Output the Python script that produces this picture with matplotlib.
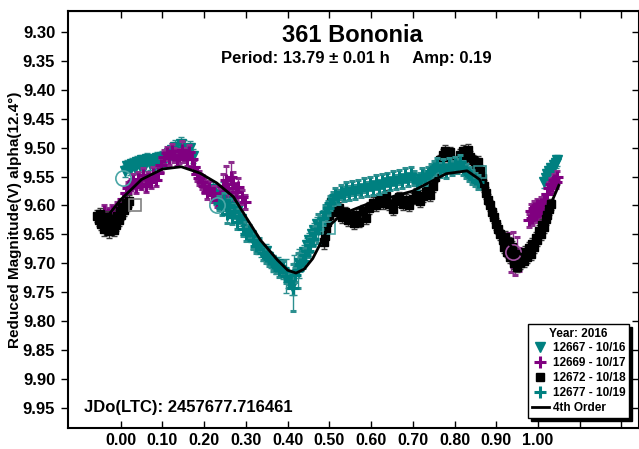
import matplotlib.pyplot as plt
from matplotlib.lines import Line2D
from matplotlib.transforms import blended_transform_factory

plt.rcParams['font.family'] = ['Liberation Sans', 'DejaVu Sans']
plt.rcParams['font.weight'] = 'bold'

# each row: (phase, reduced mag, error)
# session 12667 - 10/16, teal triangles
s12667 = [
    (0.010, 9.540, 0.010), (0.016, 9.532, 0.010), (0.022, 9.538, 0.010), (0.028, 9.528, 0.010),
    (0.034, 9.535, 0.010), (0.040, 9.525, 0.010), (0.046, 9.532, 0.010), (0.052, 9.522, 0.010),
    (0.058, 9.530, 0.010), (0.064, 9.520, 0.010), (0.070, 9.528, 0.010), (0.076, 9.522, 0.010),
    (0.082, 9.530, 0.010), (0.088, 9.518, 0.010), (0.094, 9.526, 0.010), (0.100, 9.516, 0.010),
    (0.107, 9.522, 0.012), (0.115, 9.510, 0.012), (0.123, 9.504, 0.012), (0.130, 9.498, 0.012),
    (0.137, 9.508, 0.012), (0.144, 9.494, 0.012), (0.151, 9.502, 0.015), (0.158, 9.510, 0.012),
    (0.165, 9.500, 0.012), (0.172, 9.514, 0.012),
    (0.222, 9.572, 0.012), (0.228, 9.588, 0.012), (0.234, 9.580, 0.015), (0.240, 9.596, 0.012),
    (0.246, 9.584, 0.025), (0.252, 9.602, 0.012), (0.258, 9.592, 0.015), (0.264, 9.610, 0.012),
    (0.270, 9.600, 0.020), (0.276, 9.612, 0.012), (0.282, 9.606, 0.012), (0.288, 9.624, 0.012),
    (0.294, 9.632, 0.015), (0.300, 9.640, 0.012), (0.306, 9.646, 0.012), (0.312, 9.652, 0.012),
    (0.318, 9.660, 0.015), (0.324, 9.666, 0.012), (0.330, 9.672, 0.012), (0.336, 9.678, 0.012),
    (0.342, 9.684, 0.012), (0.348, 9.678, 0.012), (0.354, 9.690, 0.012), (0.360, 9.696, 0.012),
    (0.366, 9.700, 0.015), (0.372, 9.706, 0.012), (0.378, 9.702, 0.012), (0.384, 9.712, 0.012),
    (0.390, 9.716, 0.012), (0.396, 9.722, 0.030), (0.402, 9.730, 0.012), (0.410, 9.740, 0.015),
    (0.416, 9.720, 0.035), (0.422, 9.708, 0.012), (0.428, 9.700, 0.025), (0.434, 9.690, 0.012),
    (0.440, 9.680, 0.012), (0.446, 9.668, 0.012), (0.452, 9.660, 0.012), (0.458, 9.650, 0.012),
    (0.464, 9.642, 0.012), (0.470, 9.632, 0.012),
    (1.014, 9.560, 0.010), (1.018, 9.552, 0.010), (1.022, 9.546, 0.010), (1.026, 9.540, 0.010),
    (1.030, 9.536, 0.010), (1.034, 9.540, 0.010), (1.038, 9.530, 0.010), (1.042, 9.526, 0.010),
    (1.046, 9.522, 0.010),
]

# session 12669 - 10/17, purple plus
s12669 = [
    (-0.045, 9.622, 0.010), (-0.040, 9.610, 0.010), (-0.035, 9.628, 0.010), (-0.030, 9.614, 0.010),
    (-0.025, 9.632, 0.010), (-0.020, 9.610, 0.010), (-0.015, 9.622, 0.010), (-0.010, 9.604, 0.010),
    (-0.005, 9.614, 0.010), (0.000, 9.598, 0.010), (0.006, 9.588, 0.010), (0.012, 9.578, 0.010),
    (0.018, 9.570, 0.010), (0.024, 9.564, 0.010), (0.030, 9.558, 0.012), (0.036, 9.568, 0.010),
    (0.042, 9.554, 0.012), (0.048, 9.562, 0.010), (0.054, 9.548, 0.012), (0.060, 9.566, 0.010),
    (0.066, 9.554, 0.012), (0.072, 9.560, 0.010), (0.078, 9.546, 0.012), (0.084, 9.556, 0.010),
    (0.090, 9.544, 0.012), (0.097, 9.530, 0.012), (0.104, 9.516, 0.012), (0.110, 9.510, 0.012),
    (0.116, 9.518, 0.012), (0.122, 9.506, 0.012), (0.128, 9.512, 0.012), (0.134, 9.520, 0.012),
    (0.140, 9.514, 0.012), (0.146, 9.504, 0.015), (0.152, 9.512, 0.012), (0.158, 9.520, 0.012),
    (0.164, 9.508, 0.012), (0.170, 9.520, 0.012), (0.176, 9.534, 0.012), (0.182, 9.546, 0.012),
    (0.188, 9.552, 0.012), (0.194, 9.560, 0.012), (0.200, 9.566, 0.012), (0.206, 9.576, 0.012),
    (0.212, 9.570, 0.012), (0.218, 9.582, 0.012), (0.224, 9.578, 0.012), (0.230, 9.590, 0.012),
    (0.238, 9.584, 0.015), (0.246, 9.566, 0.020), (0.252, 9.556, 0.025), (0.258, 9.570, 0.020),
    (0.264, 9.550, 0.025), (0.270, 9.562, 0.020), (0.276, 9.576, 0.015), (0.282, 9.568, 0.015),
    (0.290, 9.586, 0.012), (0.298, 9.594, 0.012),
    (0.930, 9.668, 0.020), (0.935, 9.690, 0.025), (0.940, 9.676, 0.030), (0.945, 9.700, 0.020),
    (0.950, 9.684, 0.030), (0.955, 9.694, 0.020),
    (0.978, 9.626, 0.012), (0.982, 9.610, 0.012), (0.986, 9.622, 0.012), (0.990, 9.604, 0.012),
    (0.994, 9.616, 0.012), (0.998, 9.600, 0.012), (1.002, 9.612, 0.012), (1.006, 9.598, 0.012),
    (1.010, 9.606, 0.012), (1.014, 9.592, 0.012), (1.018, 9.590, 0.010), (1.022, 9.580, 0.010),
    (1.026, 9.570, 0.010), (1.030, 9.562, 0.010), (1.034, 9.566, 0.010), (1.038, 9.556, 0.010),
    (1.042, 9.560, 0.010), (1.046, 9.550, 0.010),
]

# session 12672 - 10/18, black squares
s12672 = [
    (-0.056, 9.618, 0.010), (-0.053, 9.626, 0.010), (-0.050, 9.614, 0.010), (-0.047, 9.632, 0.010),
    (-0.044, 9.622, 0.010), (-0.041, 9.640, 0.012), (-0.038, 9.628, 0.010), (-0.035, 9.636, 0.010),
    (-0.032, 9.620, 0.010), (-0.029, 9.645, 0.012), (-0.026, 9.630, 0.010), (-0.023, 9.638, 0.010),
    (-0.020, 9.624, 0.010), (-0.017, 9.642, 0.010), (-0.014, 9.628, 0.010), (-0.011, 9.634, 0.010),
    (-0.008, 9.618, 0.010), (-0.005, 9.626, 0.010), (-0.002, 9.610, 0.010), (0.001, 9.616, 0.010),
    (0.004, 9.603, 0.010), (0.008, 9.608, 0.010), (0.012, 9.596, 0.010), (0.016, 9.600, 0.010),
    (0.020, 9.592, 0.010),
    (0.486, 9.664, 0.012), (0.489, 9.652, 0.010), (0.492, 9.640, 0.010), (0.495, 9.628, 0.010),
    (0.498, 9.616, 0.010), (0.501, 9.604, 0.010), (0.504, 9.594, 0.012), (0.508, 9.606, 0.010),
    (0.512, 9.598, 0.010), (0.518, 9.612, 0.010), (0.524, 9.604, 0.010), (0.530, 9.620, 0.010),
    (0.537, 9.612, 0.010), (0.544, 9.626, 0.010), (0.551, 9.618, 0.010), (0.558, 9.630, 0.010),
    (0.565, 9.616, 0.010), (0.572, 9.628, 0.010), (0.580, 9.610, 0.010), (0.588, 9.622, 0.010),
    (0.596, 9.604, 0.010), (0.604, 9.596, 0.010), (0.612, 9.600, 0.010), (0.620, 9.588, 0.010),
    (0.628, 9.596, 0.010), (0.636, 9.584, 0.010), (0.644, 9.598, 0.010), (0.652, 9.606, 0.010),
    (0.660, 9.592, 0.010), (0.668, 9.586, 0.010), (0.676, 9.598, 0.010), (0.684, 9.590, 0.010),
    (0.692, 9.600, 0.010), (0.700, 9.588, 0.010), (0.708, 9.580, 0.010), (0.716, 9.592, 0.010),
    (0.724, 9.584, 0.010), (0.732, 9.574, 0.010), (0.740, 9.582, 0.010), (0.748, 9.566, 0.010),
    (0.754, 9.550, 0.010), (0.760, 9.534, 0.010), (0.766, 9.522, 0.010), (0.772, 9.512, 0.010),
    (0.778, 9.506, 0.010), (0.784, 9.516, 0.010), (0.790, 9.508, 0.010), (0.796, 9.524, 0.010),
    (0.802, 9.534, 0.010), (0.808, 9.526, 0.010), (0.814, 9.512, 0.010), (0.820, 9.506, 0.010),
    (0.826, 9.514, 0.010), (0.832, 9.504, 0.010), (0.838, 9.516, 0.010), (0.844, 9.522, 0.010),
    (0.850, 9.530, 0.010), (0.856, 9.524, 0.010),
    (0.860, 9.540, 0.010), (0.865, 9.552, 0.010), (0.870, 9.566, 0.010), (0.875, 9.578, 0.010),
    (0.880, 9.590, 0.010), (0.885, 9.600, 0.010), (0.890, 9.612, 0.010), (0.895, 9.620, 0.010),
    (0.900, 9.632, 0.010), (0.905, 9.640, 0.010), (0.910, 9.650, 0.010), (0.915, 9.660, 0.010),
    (0.918, 9.672, 0.010), (0.922, 9.655, 0.010), (0.926, 9.680, 0.010), (0.930, 9.664, 0.010),
    (0.934, 9.690, 0.010), (0.938, 9.672, 0.010), (0.942, 9.700, 0.010), (0.946, 9.684, 0.010),
    (0.950, 9.706, 0.010), (0.954, 9.690, 0.010), (0.958, 9.700, 0.010), (0.962, 9.686, 0.010),
    (0.966, 9.696, 0.010), (0.970, 9.680, 0.010), (0.974, 9.690, 0.010), (0.978, 9.674, 0.010),
    (0.982, 9.684, 0.010), (0.986, 9.666, 0.010), (0.990, 9.672, 0.010), (0.994, 9.656, 0.010),
    (0.998, 9.660, 0.010), (1.002, 9.644, 0.010), (1.006, 9.650, 0.010), (1.010, 9.634, 0.010),
    (1.014, 9.638, 0.010), (1.018, 9.624, 0.010), (1.022, 9.616, 0.010), (1.026, 9.606, 0.010),
    (1.030, 9.598, 0.010),
]

# session 12677 - 10/19, teal plus
s12677 = [
    (0.236, 9.595, 0.012), (0.242, 9.605, 0.012), (0.248, 9.590, 0.012), (0.254, 9.615, 0.015),
    (0.260, 9.600, 0.012), (0.266, 9.620, 0.012), (0.272, 9.610, 0.012), (0.278, 9.628, 0.012),
    (0.284, 9.618, 0.012), (0.292, 9.640, 0.012), (0.300, 9.650, 0.012), (0.308, 9.645, 0.012),
    (0.316, 9.660, 0.015), (0.324, 9.670, 0.012), (0.332, 9.668, 0.012), (0.340, 9.682, 0.012),
    (0.348, 9.688, 0.012), (0.356, 9.692, 0.012), (0.364, 9.700, 0.012), (0.372, 9.705, 0.012),
    (0.380, 9.712, 0.012), (0.388, 9.708, 0.012), (0.396, 9.722, 0.012), (0.404, 9.730, 0.012),
    (0.412, 9.742, 0.040), (0.418, 9.720, 0.012), (0.424, 9.712, 0.030), (0.430, 9.702, 0.012),
    (0.436, 9.696, 0.012), (0.442, 9.686, 0.012), (0.448, 9.678, 0.012), (0.454, 9.668, 0.012),
    (0.460, 9.658, 0.012), (0.466, 9.648, 0.012), (0.472, 9.640, 0.025), (0.478, 9.630, 0.012),
    (0.484, 9.622, 0.012), (0.490, 9.612, 0.012), (0.496, 9.604, 0.012), (0.502, 9.596, 0.012),
    (0.508, 9.588, 0.012), (0.514, 9.582, 0.012), (0.520, 9.585, 0.012), (0.527, 9.576, 0.012),
    (0.534, 9.580, 0.012), (0.541, 9.572, 0.012), (0.548, 9.578, 0.012), (0.555, 9.570, 0.012),
    (0.562, 9.576, 0.012), (0.569, 9.568, 0.012), (0.576, 9.574, 0.012), (0.583, 9.565, 0.012),
    (0.590, 9.572, 0.012), (0.597, 9.562, 0.012), (0.604, 9.570, 0.012), (0.611, 9.560, 0.012),
    (0.618, 9.568, 0.012), (0.625, 9.558, 0.012), (0.632, 9.565, 0.012), (0.639, 9.555, 0.012),
    (0.646, 9.562, 0.012), (0.653, 9.552, 0.012), (0.660, 9.560, 0.012), (0.667, 9.550, 0.012),
    (0.674, 9.558, 0.012), (0.681, 9.548, 0.012), (0.688, 9.555, 0.012), (0.695, 9.545, 0.012),
    (0.702, 9.552, 0.012), (0.709, 9.560, 0.012), (0.716, 9.555, 0.012), (0.723, 9.548, 0.012),
    (0.730, 9.552, 0.012), (0.737, 9.545, 0.012), (0.744, 9.540, 0.012), (0.751, 9.535, 0.012),
    (0.758, 9.530, 0.012), (0.765, 9.538, 0.012), (0.772, 9.532, 0.012), (0.779, 9.540, 0.012),
    (0.786, 9.530, 0.012), (0.793, 9.535, 0.012), (0.800, 9.528, 0.012), (0.807, 9.532, 0.012),
    (0.814, 9.525, 0.012), (0.821, 9.535, 0.012), (0.828, 9.540, 0.012), (0.835, 9.545, 0.012),
    (0.842, 9.550, 0.012), (0.849, 9.555, 0.012), (0.856, 9.560, 0.012),
]

# points drawn as open symbols
open_phase = [0.005, 0.230, 0.940, 0.035, 0.500, 0.860]
open_mag = [9.553, 9.600, 9.680, 9.600, 9.639, 9.542]
open_marker = ['o', 'o', 'o', 's', 's', 's']
open_color = ['#4aa6a6', '#4aa6a6', '#a050a0', '#808080', '#4aa6a6', '#2f8a8a']

# 4th order Fourier fit
fit_phase = [-0.05, 0.00, 0.05, 0.10, 0.145, 0.19, 0.23, 0.27, 0.30, 0.335,
             0.375, 0.40, 0.42, 0.44, 0.46, 0.48, 0.50, 0.53, 0.60, 0.70,
             0.78, 0.83, 0.86, 0.88, 0.90, 0.92, 0.94, 0.96, 0.98, 1.00,
             1.02, 1.05]
fit_mag = [9.635, 9.590, 9.555, 9.537, 9.533, 9.544, 9.561, 9.585, 9.620, 9.660,
           9.694, 9.712, 9.717, 9.710, 9.692, 9.664, 9.635, 9.615, 9.595, 9.575,
           9.545, 9.540, 9.555, 9.590, 9.625, 9.655, 9.675, 9.685, 9.675, 9.650,
           9.615, 9.565]

x_ticks = [0.0, 0.1, 0.2, 0.3, 0.4, 0.5, 0.6, 0.7, 0.8, 0.9, 1.0, 1.1, 1.2]
x_labels = ['0.00', '0.10', '0.20', '0.30', '0.40', '0.50', '0.60', '0.70',
            '0.80', '0.90', '1.00', '', '']
y_ticks = [9.30, 9.35, 9.40, 9.45, 9.50, 9.55, 9.60, 9.65, 9.70, 9.75,
           9.80, 9.85, 9.90, 9.95]

TEAL = '#008080'
PURPLE = '#800080'

fig = plt.figure(figsize=(6.39, 4.49), dpi=100)
ax = fig.add_axes([0.106, 0.047, 0.894, 0.929])


def draw_session(rows, marker, color, ecolor, z, **mkw):
    ph, mg, er = zip(*rows)
    ax.errorbar(ph, mg, yerr=er, ls='none', marker=marker, color=color, ecolor=ecolor,
                elinewidth=1, capsize=2.5, capthick=1, zorder=z, **mkw)


draw_session(s12667, 'v', TEAL, '#2c8f8f', 2, ms=7)
draw_session(s12669, '+', PURPLE, '#8e2d8e', 3, ms=9, mew=2.2)
draw_session(s12672, 's', 'black', '#3a3a3a', 4, ms=6)
draw_session(s12677, '+', TEAL, '#2c8f8f', 5, ms=9, mew=2.2)

for p, m, mk, c in zip(open_phase, open_mag, open_marker, open_color):
    ax.plot(p, m, marker=mk, ms=11 if mk == 'o' else 9, mfc='none', mec=c, mew=1.2,
            ls='none', zorder=6)

ax.plot(fit_phase, fit_mag, color='black', lw=2, zorder=7)

ax.set_xlim(-0.127, 1.242)
ax.set_ylim(9.985, 9.263)
ax.set_xticks(x_ticks)
ax.set_xticklabels(x_labels)
ax.set_yticks(y_ticks)
ax.set_yticklabels(['%.2f' % v for v in y_ticks])
ax.tick_params(axis='x', direction='in', length=5, width=1, labelsize=11.5, pad=4)
ax.tick_params(axis='y', direction='out', length=5, width=1, labelsize=12, pad=4)
for s in ax.spines.values():
    s.set_linewidth(1.5)

top = ax.secondary_xaxis('top')
top.set_xticks(x_ticks)
top.tick_params(direction='in', length=5, width=1, labeltop=False)
right = ax.secondary_yaxis('right')
right.set_yticks(y_ticks)
right.tick_params(direction='in', length=5, width=1, labelright=False)

ax.set_ylabel('Reduced Magnitude(V) alpha(12.4°)', fontsize=11, fontweight='bold')
ax.yaxis.set_label_coords(-0.08, 0.5)

fig.text(0.552, 1 - 35 / 449, '361 Bononia', ha='center', va='center',
         fontsize=17, fontweight='bold')
fig.text(0.558, 1 - 59 / 449, 'Period: 13.79 ± 0.01 h     Amp: 0.19', ha='center',
         va='center', fontsize=12, fontweight='bold')
ax.text(0.029, 9.95, 'JDo(LTC): 2457677.716461',
        transform=blended_transform_factory(ax.transAxes, ax.transData),
        ha='left', va='center', fontsize=12, fontweight='bold')

handles = [Line2D([], [], ls='none', marker='v', ms=7, color=TEAL),
           Line2D([], [], ls='none', marker='+', ms=9, mew=2.2, color=PURPLE),
           Line2D([], [], ls='none', marker='s', ms=6, color='black'),
           Line2D([], [], ls='none', marker='+', ms=9, mew=2.2, color=TEAL),
           Line2D([], [], color='black', lw=2)]
labels = ['12667 - 10/16', '12669 - 10/17', '12672 - 10/18', '12677 - 10/19', '4th Order']
leg = ax.legend(handles, labels, title='Year: 2016', loc='upper left',
                bbox_to_anchor=(528 / 639, 1 - 324 / 449), bbox_transform=fig.transFigure,
                fancybox=False, shadow={'color': 'black', 'alpha': 1}, edgecolor='black',
                framealpha=1, prop={'weight': 'bold', 'size': 8.5},
                title_fontproperties={'weight': 'bold', 'size': 8.5},
                borderpad=0.3, labelspacing=0.25, handlelength=1.5, handletextpad=0.3,
                borderaxespad=0)
leg.get_frame().set_linewidth(1)
leg.set_zorder(10)

fig.savefig('out.png', dpi=100)
